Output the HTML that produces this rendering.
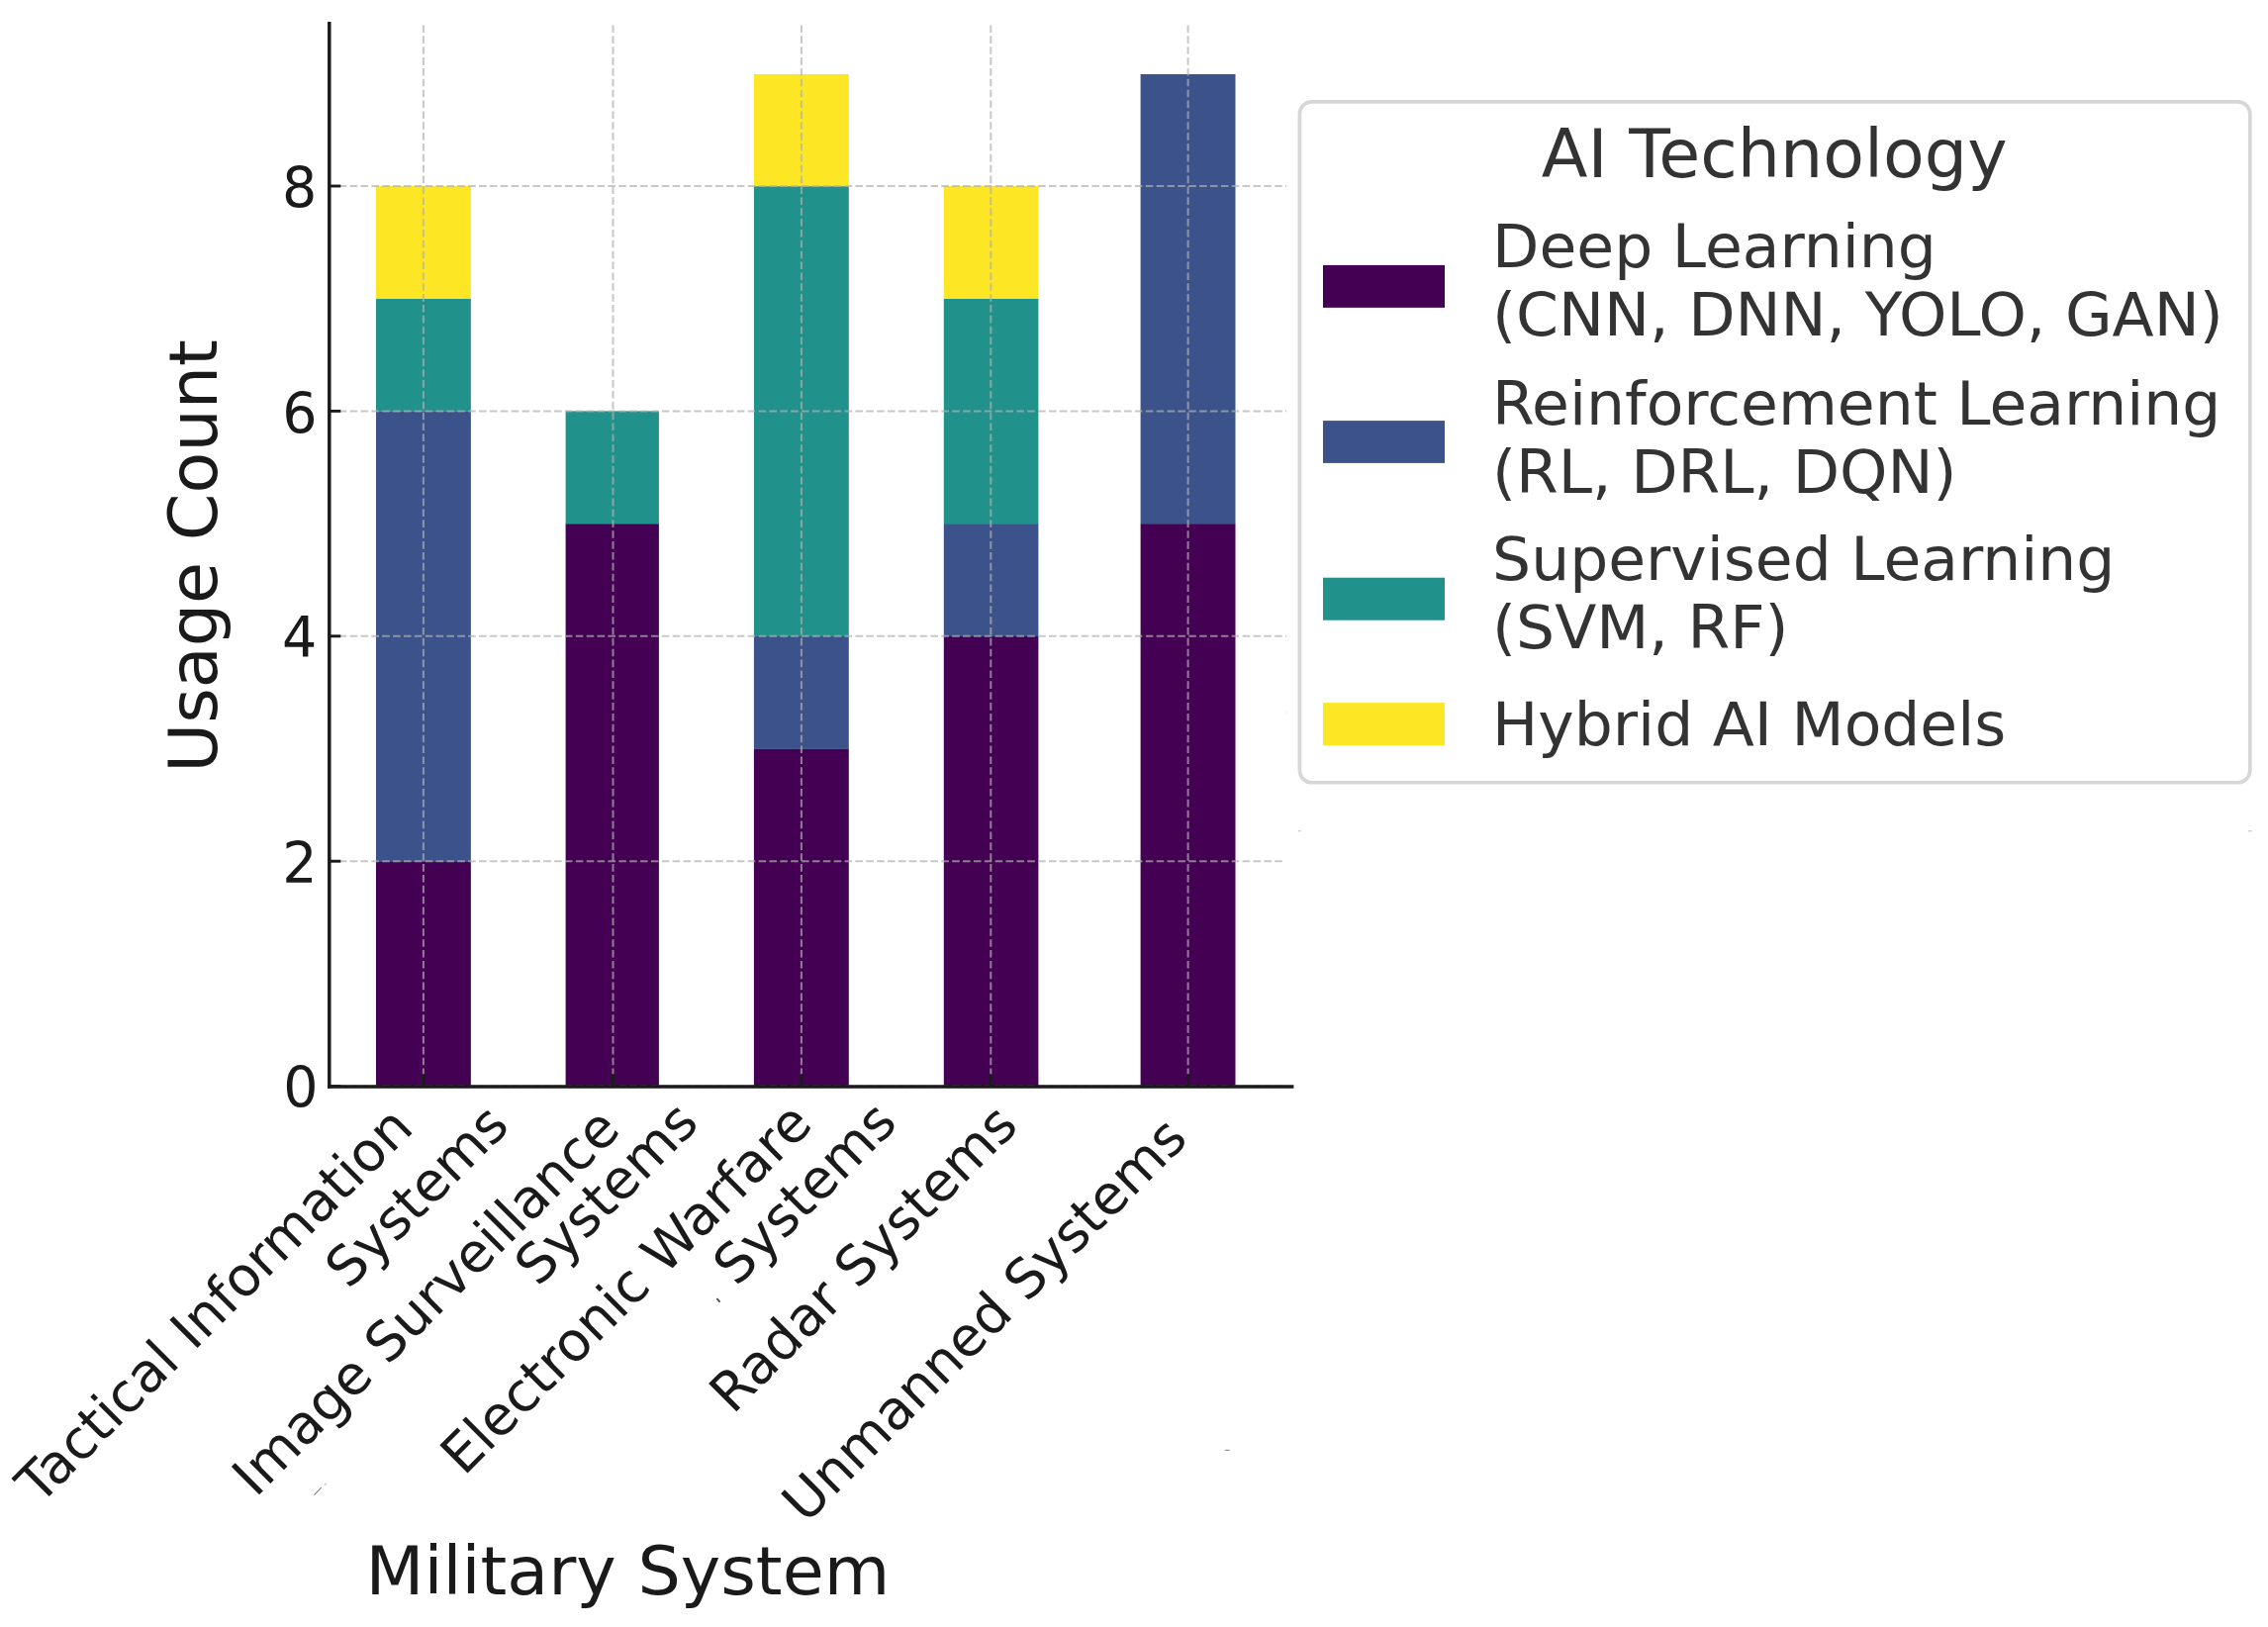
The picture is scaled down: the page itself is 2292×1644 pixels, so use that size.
<!DOCTYPE html>
<html lang="en"><head><meta charset="utf-8"><title>AI Technology usage by Military System</title>
<style>
html,body{margin:0;padding:0;background:#fff;}
body{width:2292px;height:1644px;overflow:hidden;}
svg{display:block;}
text{font-family:"DejaVu Sans","Liberation Sans",sans-serif;}
</style></head><body>
<svg width="2292" height="1644" viewBox="0 0 2292 1644">
<rect x="0" y="0" width="2292" height="1644" fill="#ffffff"/>

<g shape-rendering="auto">
<rect x="380.00" y="870.20" width="95.85" height="227.70" fill="#440154"/>
<rect x="380.00" y="415.40" width="95.85" height="455.10" fill="#3b528b"/>
<rect x="380.00" y="301.70" width="95.85" height="114.00" fill="#21918c"/>
<rect x="380.00" y="188.00" width="95.85" height="114.00" fill="#fde725"/>
<rect x="571.60" y="529.10" width="94.30" height="568.80" fill="#440154"/>
<rect x="571.60" y="415.40" width="94.30" height="114.00" fill="#21918c"/>
<rect x="761.90" y="756.50" width="95.90" height="341.40" fill="#440154"/>
<rect x="761.90" y="642.80" width="95.90" height="114.00" fill="#3b528b"/>
<rect x="761.90" y="188.00" width="95.90" height="455.10" fill="#21918c"/>
<rect x="761.90" y="74.94" width="95.90" height="113.36" fill="#fde725"/>
<rect x="953.80" y="642.80" width="95.60" height="455.10" fill="#440154"/>
<rect x="953.80" y="529.10" width="95.60" height="114.00" fill="#3b528b"/>
<rect x="953.80" y="301.70" width="95.60" height="227.70" fill="#21918c"/>
<rect x="953.80" y="188.00" width="95.60" height="114.00" fill="#fde725"/>
<rect x="1152.60" y="529.10" width="95.90" height="568.80" fill="#440154"/>
<rect x="1152.60" y="74.94" width="95.90" height="454.46" fill="#3b528b"/>
</g>
<g stroke="#b0b0b0" stroke-opacity="0.7" stroke-width="2.05" stroke-dasharray="7.587 3.28" fill="none">
<line x1="427.9" y1="1098.0" x2="427.9" y2="23.9"/>
<line x1="619.5" y1="1098.0" x2="619.5" y2="23.9"/>
<line x1="809.9" y1="1098.0" x2="809.9" y2="23.9"/>
<line x1="1001.3" y1="1098.0" x2="1001.3" y2="23.9"/>
<line x1="1200.6" y1="1098.0" x2="1200.6" y2="23.9"/>
<line x1="331.9" y1="1097.60" x2="1300.2" y2="1097.60"/>
<line x1="331.9" y1="870.20" x2="1297.0" y2="870.20"/>
<line x1="331.9" y1="642.80" x2="1300.2" y2="642.80"/>
<line x1="331.9" y1="415.40" x2="1300.2" y2="415.40"/>
<line x1="331.9" y1="188.00" x2="1300.2" y2="188.00"/>
</g>
<g stroke="#1a1a1a" stroke-width="3.5" fill="none">
<line x1="332.8" y1="22.1" x2="332.8" y2="1099.75"/>
<line x1="331.05" y1="1098.0" x2="1307.4" y2="1098.0"/>
</g>
<g stroke="#1a1a1a" stroke-width="2.9" fill="none">
<line x1="427.9" y1="1098.0" x2="427.9" y2="1085.2"/>
<line x1="619.5" y1="1098.0" x2="619.5" y2="1085.2"/>
<line x1="809.9" y1="1098.0" x2="809.9" y2="1085.2"/>
<line x1="1001.3" y1="1098.0" x2="1001.3" y2="1085.2"/>
<line x1="1200.6" y1="1098.0" x2="1200.6" y2="1085.2"/>
<line x1="332.8" y1="1097.60" x2="344.3" y2="1097.60"/>
<line x1="332.8" y1="870.20" x2="344.3" y2="870.20"/>
<line x1="332.8" y1="642.80" x2="344.3" y2="642.80"/>
<line x1="332.8" y1="415.40" x2="344.3" y2="415.40"/>
<line x1="332.8" y1="188.00" x2="344.3" y2="188.00"/>
</g>
<g font-size="57.0" fill="#1a1a1a" text-anchor="end">
<text transform="translate(321.60,1118.50) scale(0.974,1)">0</text>
<text transform="translate(320.60,891.70) scale(0.974,1)">2</text>
<text transform="translate(320.40,664.40) scale(0.974,1)">4</text>
<text transform="translate(320.50,437.50) scale(0.974,1)">6</text>
<text transform="translate(320.30,209.90) scale(0.974,1)">8</text>
</g>
<text font-size="68.35" fill="#1a1a1a" text-anchor="middle" transform="translate(218.5,562) rotate(-90)">Usage Count</text>
<text font-size="68.35" fill="#1a1a1a" text-anchor="middle" x="634.4" y="1611">Military System</text>
<g font-size="54.7" fill="#1a1a1a" text-anchor="end">
<text transform="translate(419.70,1142.00) rotate(-45)">Tactical Information</text>
<text transform="translate(516.60,1139.50) rotate(-45)">Systems</text>
<text transform="translate(628.80,1143.40) rotate(-45)">Image Surveillance</text>
<text transform="translate(708.20,1136.80) rotate(-45)">Systems</text>
<text transform="translate(823.10,1137.90) rotate(-45)">Electronic Warfare</text>
<text transform="translate(908.60,1136.70) rotate(-45)">Systems</text>
<text transform="translate(1030.90,1139.50) rotate(-45)">Radar Systems</text>
<text transform="translate(1202.10,1152.60) rotate(-45)">Unmanned Systems</text>
</g>
<rect x="1313.4" y="102.9" width="960.4" height="687.85" rx="12.5" ry="12.5" fill="#ffffff" fill-opacity="0.8" stroke="#cccccc" stroke-opacity="0.8" stroke-width="3.7"/>
<text font-size="68" fill="#333333" transform="translate(1557.7,178.6) scale(1.0039,1)">AI Technology</text>
<rect x="1337" y="267.9" width="123" height="42.95" fill="#440154"/>
<rect x="1337" y="425.1" width="123" height="42.80" fill="#3b528b"/>
<rect x="1337" y="583.7" width="123" height="43.00" fill="#21918c"/>
<rect x="1337" y="710.1" width="123" height="43.00" fill="#fde725"/>
<g font-size="60.5" fill="#333333">
<text transform="translate(1508.1,270.30) scale(1.017,1)">Deep Learning</text>
<text transform="translate(1508.1,338.90) scale(1.017,1)">(CNN, DNN, YOLO, GAN)</text>
<text transform="translate(1508.1,428.80) scale(1.017,1)">Reinforcement Learning</text>
<text transform="translate(1508.1,497.60) scale(1.017,1)">(RL, DRL, DQN)</text>
<text transform="translate(1508.1,586.10) scale(1.017,1)">Supervised Learning</text>
<text transform="translate(1508.1,654.90) scale(1.017,1)">(SVM, RF)</text>
<text transform="translate(1508.1,753.30) scale(1.017,1)">Hybrid AI Models</text>
</g>
<g fill="none" stroke-linecap="round">
<line x1="317.8" y1="1510.4" x2="324.4" y2="1503.4" stroke="#444444" stroke-opacity="0.7" stroke-width="1.1"/>
<line x1="328.6" y1="1500.0" x2="329.6" y2="1499.3" stroke="#bbbbbb" stroke-width="1.2"/>
<line x1="724.9" y1="1312.6" x2="727.0" y2="1315.0" stroke="#555555" stroke-width="1.9"/>
<line x1="1238.2" y1="1465.4" x2="1242.2" y2="1465.4" stroke="#999999" stroke-width="1.2"/>
<line x1="1311.8" y1="839.7" x2="1314.8" y2="839.7" stroke="#cccccc" stroke-width="1.3" stroke-linecap="butt"/>
<line x1="2272.0" y1="839.7" x2="2275.6" y2="839.7" stroke="#cccccc" stroke-width="1.3" stroke-linecap="butt"/>
<line x1="1299.3" y1="720.0" x2="1300.1" y2="720.0" stroke="#cccccc" stroke-width="1.5" stroke-linecap="butt"/>
</g>
</svg>
</body></html>
